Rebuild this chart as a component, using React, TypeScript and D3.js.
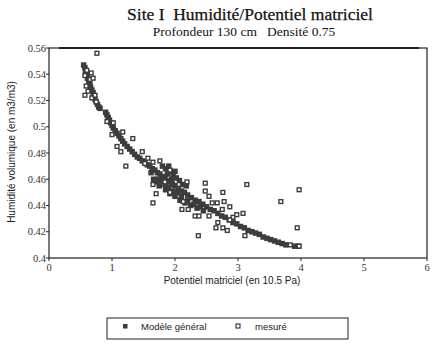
import React from "react";
import * as d3 from "d3";

const title = "Site I  Humidité/Potentiel matriciel";
const subtitle = "Profondeur 130 cm   Densité 0.75";
const xLabel = "Potentiel matriciel (en 10.5 Pa)";
const yLabel = "Humidité volumique (en m3/m3)";
const xTicks = [0, 1, 2, 3, 4, 5, 6];
const yTicks = [0.4, 0.42, 0.44, 0.46, 0.48, 0.5, 0.52, 0.54, 0.56];
const yTickLabels = ["0.4", "0.42", "0.44", "0.46", "0.48", "0.5", "0.52", "0.54", "0.56"];
const legendLabels = ["Modèle général", "mesuré"];

// Modèle général (filled squares)
const modelX = [
  0.55, 0.57, 0.58, 0.6, 0.61, 0.63, 0.65, 0.66, 0.68, 0.7, 0.72, 0.73, 0.75, 0.77, 0.79, 0.81,
  0.9, 0.92, 0.94, 0.96, 0.98, 1.0, 1.02, 1.05, 1.08, 1.11, 1.14, 1.17, 1.2, 1.24, 1.28, 1.32,
  1.36, 1.4, 1.44, 1.48, 1.52, 1.56, 1.6, 1.64, 1.68, 1.72, 1.76, 1.8, 1.84, 1.88, 1.92, 1.96,
  2.0, 2.05, 2.1, 2.15, 2.2, 2.26, 2.32, 2.38, 2.44, 2.5, 2.56, 2.62, 2.68, 2.74, 2.8, 2.86,
  2.92, 2.98, 3.04, 3.1, 3.16, 3.22, 3.28, 3.34, 3.4, 3.46, 3.52, 3.58, 3.64, 3.7, 3.76, 3.9, 3.96,
  1.8, 1.85, 1.9, 1.93, 1.97, 2.02, 2.07, 2.12, 2.18, 1.75, 1.85, 1.92, 2.0, 2.08, 2.16, 2.25,
  2.35, 2.45, 1.62, 1.66, 1.7,
  1.72, 1.78, 1.84, 1.9, 1.96, 2.03, 2.1, 2.2, 2.3, 2.4, 1.88, 1.95, 2.0,
];
const modelY = [
  0.547, 0.545, 0.542, 0.54, 0.537, 0.535, 0.532, 0.53, 0.528, 0.526, 0.523, 0.521, 0.519, 0.517, 0.515, 0.514,
  0.511, 0.509, 0.507, 0.505, 0.503, 0.501, 0.499, 0.497, 0.495, 0.493, 0.491, 0.489, 0.487, 0.485, 0.483, 0.481,
  0.479, 0.477, 0.476, 0.474, 0.473, 0.471, 0.47, 0.468, 0.467, 0.465, 0.464, 0.462, 0.461, 0.459, 0.458, 0.456,
  0.455, 0.453, 0.451, 0.45, 0.448, 0.446, 0.444, 0.443, 0.441, 0.439, 0.437, 0.436, 0.434, 0.432, 0.431, 0.429,
  0.427, 0.426, 0.424, 0.423, 0.421, 0.42, 0.419, 0.418, 0.416, 0.415, 0.414, 0.413, 0.412, 0.411, 0.41, 0.409, 0.409,
  0.47, 0.468, 0.47, 0.466, 0.463, 0.461, 0.459, 0.456, 0.455, 0.455, 0.452, 0.449, 0.447, 0.444, 0.442, 0.44,
  0.438, 0.436, 0.465, 0.46, 0.458,
  0.46, 0.459, 0.456, 0.454, 0.451, 0.45, 0.447, 0.444, 0.441, 0.439, 0.464, 0.46, 0.466,
];

// mesuré (open squares)
const measX = [
  0.76, 0.57, 0.6, 0.59, 0.62, 0.57, 0.65, 0.7, 0.67, 0.68, 0.73, 0.75,
  0.92, 1.02, 1.17, 1.33, 1.0, 1.08, 1.14, 1.48, 1.57, 1.65, 1.76, 1.52, 1.22,
  1.65, 1.7, 1.65, 1.84, 1.92, 1.92, 2.19, 2.13, 2.11, 2.21, 2.32, 2.38, 2.54,
  2.48, 2.48, 2.54, 2.76, 2.78, 2.59, 2.67, 2.75, 2.87, 2.92, 2.98, 3.08, 2.68,
  2.87, 2.65, 2.76, 2.83, 2.37, 3.11, 3.14, 3.68, 3.97, 3.94, 3.97, 3.83,
];
const measY = [
  0.556, 0.539, 0.543, 0.531, 0.527, 0.524, 0.536, 0.537, 0.541, 0.522, 0.524, 0.519,
  0.504, 0.503, 0.496, 0.491, 0.494, 0.485, 0.481, 0.481, 0.476, 0.473, 0.474, 0.472, 0.47,
  0.456, 0.449, 0.442, 0.458, 0.45, 0.467, 0.458, 0.443, 0.437, 0.437, 0.432, 0.432, 0.432,
  0.457, 0.451, 0.447, 0.45, 0.443, 0.442, 0.442, 0.437, 0.439, 0.431, 0.433, 0.434, 0.427,
  0.429, 0.423, 0.423, 0.421, 0.417, 0.417, 0.456, 0.443, 0.452, 0.423, 0.409, 0.41,
];

const W = 432;
const H = 345;
const L = 49, R = 427, T = 48, B = 258;
const ink = "#3c3c3c";
const pre: React.CSSProperties = { whiteSpace: "pre" };

export default function App() {
  const x = d3.scaleLinear().domain([0, 6]).range([L, R]);
  const y = d3.scaleLinear().domain([0.4, 0.56]).range([B, T]);
  const s = 5.5;
  return (
    <svg width={W} height={H} style={{ position: "absolute", left: 0, top: 0, background: "#fff" }}>
      <rect x={0} y={0} width={W} height={H} fill="#fff" />
      <text x={250} y={20} textAnchor="middle" style={pre} fontFamily="'Liberation Serif', 'Times New Roman', serif" fontSize={17.5} fill="#111" stroke="#111" strokeWidth={0.25}>{title}</text>
      <text x={244} y={36} textAnchor="middle" style={pre} fontFamily="'Liberation Serif', 'Times New Roman', serif" fontSize={13.5} fill="#111">{subtitle}</text>

      {/* frame */}
      <rect x={L} y={T} width={R - L} height={B - T} fill="none" stroke="#222" strokeWidth={1.2} />
      <line x1={L + 10} x2={R - 8} y1={T} y2={T} stroke="#222" strokeWidth={2} />

      {/* y ticks */}
      {yTicks.map((v, i) => (
        <g key={"yt" + i}>
          <line x1={L - 3} x2={L} y1={y(v)} y2={y(v)} stroke="#222" strokeWidth={1} />
          <text x={L - 3} y={y(v) + 3.5} textAnchor="end" fontFamily="'Liberation Serif', serif" fontSize={10.5} fill="#333">{yTickLabels[i]}</text>
        </g>
      ))}
      {/* x ticks */}
      {xTicks.map((v, i) => (
        <g key={"xt" + i}>
          <line x1={x(v)} x2={x(v)} y1={B} y2={B + 3} stroke="#222" strokeWidth={1} />
          <text x={x(v)} y={B + 13} textAnchor="middle" fontFamily="'Liberation Serif', serif" fontSize={10.5} fill="#333">{String(v)}</text>
        </g>
      ))}

      <text x={232} y={284} textAnchor="middle" fontFamily="'Liberation Sans', Arial, sans-serif" fontSize={10} fill="#222">{xLabel}</text>
      <text transform={`translate(15,${152}) rotate(-90)`} textAnchor="middle" fontFamily="'Liberation Sans', Arial, sans-serif" fontSize={10} fill="#222">{yLabel}</text>

      {/* model */}
      {modelX.map((v, i) => (
        <rect key={"m" + i} x={x(v) - s / 2} y={y(modelY[i]) - s / 2} width={s} height={s} fill={ink} />
      ))}
      {/* measured */}
      {measX.map((v, i) => (
        <rect key={"o" + i} x={x(v) - 2.5 + 0.6} y={y(measY[i]) - 2.5 + 0.6} width={3.8} height={3.8} fill="#fff" stroke={ink} strokeWidth={1.4} />
      ))}

      {/* legend */}
      <rect x={107} y={318} width={241} height={21} fill="#fff" stroke="#222" strokeWidth={1} />
      <rect x={123} y={324} width={4.5} height={4.5} fill={ink} />
      <text x={141} y={330} fontFamily="'Liberation Sans', Arial, sans-serif" fontSize={9.5} fill="#222">{legendLabels[0]}</text>
      <rect x={236} y={324} width={4} height={4} fill="#fff" stroke={ink} strokeWidth={1.2} />
      <text x={255} y={330} fontFamily="'Liberation Sans', Arial, sans-serif" fontSize={9.5} fill="#222">{legendLabels[1]}</text>
    </svg>
  );
}
